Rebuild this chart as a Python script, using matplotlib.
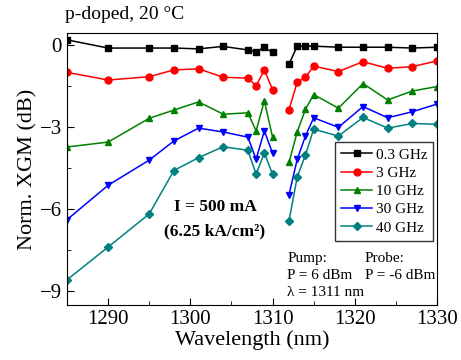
import numpy as np
import matplotlib
matplotlib.use("Agg")
import matplotlib.pyplot as plt
from matplotlib.ticker import MultipleLocator

plt.rcParams['font.family'] = ['Liberation Serif', 'DejaVu Serif']
plt.rcParams['mathtext.fontset'] = 'stix'

# wavelengths (nm); 1311 nm is the pump, no probe data there
wavelength = [1285, 1290, 1295, 1298, 1301, 1304, 1307, 1308, 1309, 1310, 1311,
              1312, 1313, 1314, 1315, 1318, 1321, 1324, 1327, 1330]

xgm_03 = [0.2, -0.1, -0.1, -0.1, -0.13, -0.04, -0.17, -0.23, -0.08, -0.26, np.nan,
          -0.69, -0.03, -0.03, -0.03, -0.07, -0.07, -0.07, -0.1, -0.07]
xgm_3 = [-0.99, -1.27, -1.15, -0.9, -0.86, -1.17, -1.2, -1.48, -0.9, -1.62, np.nan,
         -2.35, -1.35, -1.17, -0.76, -0.96, -0.6, -0.84, -0.78, -0.57]
xgm_10 = [-3.72, -3.54, -2.67, -2.37, -2.07, -2.52, -2.47, -3.13, -2.03, -3.36, np.nan,
          -4.28, -3.17, -2.34, -1.8, -2.3, -1.4, -2.0, -1.67, -1.51]
xgm_30 = [-6.38, -5.12, -4.2, -3.5, -3.03, -3.17, -3.36, -4.17, -3.13, -3.95, np.nan,
          -5.46, -4.17, -3.32, -2.65, -3.0, -2.24, -2.65, -2.43, -2.15]
xgm_40 = [-8.58, -7.38, -6.17, -4.58, -4.11, -3.71, -3.84, -4.72, -3.93, -4.72, np.nan,
          -6.42, -4.82, -4.01, -3.07, -3.32, -2.64, -3.03, -2.86, -2.89]

series = [
    ("0.3 GHz", xgm_03, "black", "s", 4),
    ("3 GHz", xgm_3, "#ff0000", "o", 5),
    ("10 GHz", xgm_10, "#008000", "^", 5),
    ("30 GHz", xgm_30, "#0000ff", "v", 5),
    ("40 GHz", xgm_40, "#008080", "D", 4.2),
]

fig = plt.figure(figsize=(4.61, 3.6), dpi=100)
ax = fig.add_axes([0.1453, 0.1528, 0.8027, 0.7555])

for label, vals, col, mk, ms in series:
    ax.plot(wavelength, vals, color=col, marker=mk, markersize=ms, lw=1.1, label=label)

ax.set_xlim(1285, 1330)
ax.set_ylim(-9.5, 0.45)
ax.xaxis.set_major_locator(MultipleLocator(10))
ax.xaxis.set_minor_locator(MultipleLocator(5))
ax.yaxis.set_major_locator(MultipleLocator(3))
ax.yaxis.set_minor_locator(MultipleLocator(1.5))
ax.tick_params(which='both', direction='in', top=False, right=False, labelsize=15)
ax.tick_params(which='major', length=5)
ax.tick_params(which='minor', length=3)

ax.set_xlabel("Wavelength (nm)", fontsize=16, labelpad=1)
ax.set_ylabel("Norm. XGM (dB)", fontsize=16, labelpad=2)
fig.text(0.142, 0.935, "p-doped, 20 °C", fontsize=14, ha='left', va='bottom')

leg = ax.legend(loc='upper right', bbox_to_anchor=(0.99, 0.6), fontsize=11,
                frameon=True, fancybox=False, edgecolor='black', handlelength=2.0,
                handletextpad=0.25, borderpad=0.4, labelspacing=0.3,
                borderaxespad=0.0)
leg.get_frame().set_linewidth(1.0)

ax.text(0.40, 0.315, "I = 500 mA\n(6.25 kA/cm²)", transform=ax.transAxes,
        ha='center', va='center', fontsize=12.5, fontweight='bold', linespacing=1.7)
ax.text(0.595, 0.195, "Pump:\nP = 6 dBm\nλ = 1311 nm", transform=ax.transAxes,
        ha='left', va='top', fontsize=11, linespacing=1.4)
ax.text(0.805, 0.195, "Probe:\nP = -6 dBm", transform=ax.transAxes,
        ha='left', va='top', fontsize=11, linespacing=1.4)

fig.savefig("out.png", dpi=100)
